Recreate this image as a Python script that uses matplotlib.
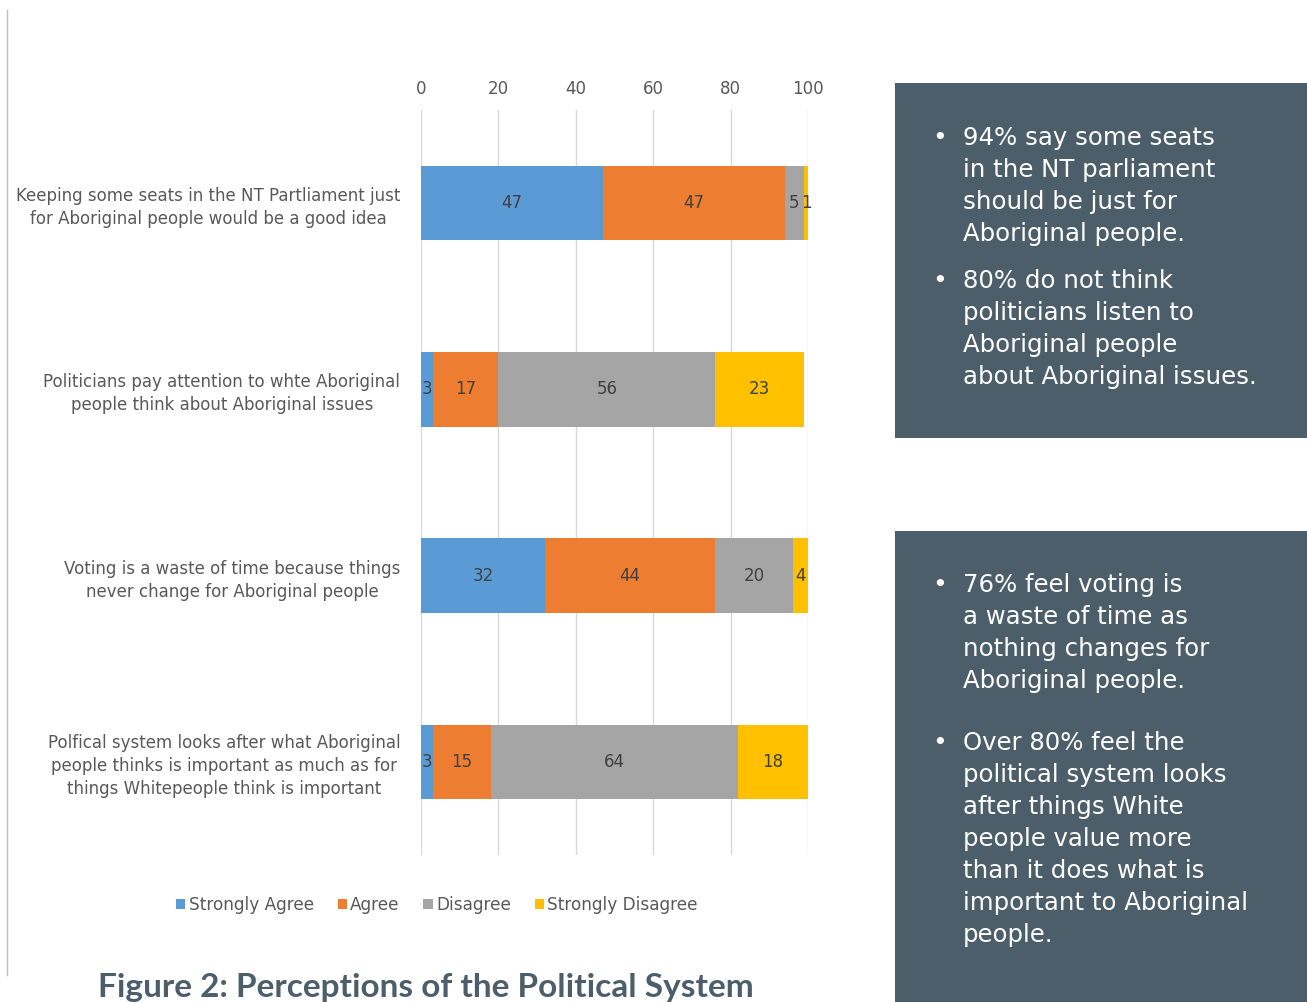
import matplotlib.pyplot as plt
from matplotlib.patches import Patch, Rectangle
from matplotlib.lines import Line2D
import numpy as np

W, H = 1307, 1002

questions = [
    "Keeping some seats in the NT Partliament just\nfor Aboriginal people would be a good idea",
    "Politicians pay attention to whte Aboriginal\npeople think about Aboriginal issues",
    "Voting is a waste of time because things\nnever change for Aboriginal people",
    "Polfical system looks after what Aboriginal\npeople thinks is important as much as for\nthings Whitepeople think is important",
]
series = ["Strongly Agree", "Agree", "Disagree", "Strongly Disagree"]
strongly_agree = [47, 3, 32, 3]
agree = [47, 17, 44, 15]
disagree = [5, 56, 20, 64]
strongly_disagree = [1, 23, 4, 18]
ticks = [0, 20, 40, 60, 80, 100]

box1_lines = [
    ["94% say some seats", "in the NT parliament", "should be just for", "Aboriginal people."],
    ["80% do not think", "politicians listen to", "Aboriginal people", "about Aboriginal issues."],
]
box2_lines = [
    ["76% feel voting is", "a waste of time as", "nothing changes for", "Aboriginal people."],
    ["Over 80% feel the", "political system looks", "after things White",
     "people value more", "than it does what is", "important to Aboriginal", "people."],
]

colors = ["#5B9BD5", "#ED7D31", "#A5A5A5", "#FFC000"]
slate = "#4B5E69"
txt = "#595959"


def px(x, y):
    return x / W, 1 - y / H


fig = plt.figure(figsize=(W / 100, H / 100), dpi=100)
plt.rcParams['font.family'] = ['DejaVu Sans']

l, t = px(421, 110)
r, b = px(808, 855)
ax = fig.add_axes([l, b, r - l, t - b])

vals = np.array([strongly_agree, agree, disagree, strongly_disagree], dtype=float)
y = np.arange(len(questions))
left = np.zeros(len(questions))
for i, name in enumerate(series):
    ax.barh(y, vals[i], left=left, height=0.4, color=colors[i], zorder=3)
    for j in range(len(questions)):
        ax.text(left[j] + vals[i][j] / 2, y[j], f"{vals[i][j]:.0f}", ha='center',
                va='center', fontsize=12, color="#404040", zorder=4)
    left += vals[i]

ax.set_xlim(0, 100)
ax.set_ylim(3.5, -0.5)
ax.set_xticks(ticks)
ax.xaxis.tick_top()
ax.tick_params(axis='x', length=0, labelsize=12, labelcolor=txt, pad=9)
ax.set_yticks(y)
ax.set_yticklabels(questions, fontsize=12, color=txt, ha='right',
                   multialignment='center', linespacing=1.35)
ax.tick_params(axis='y', length=0, pad=15)
ax.grid(axis='x', color="#D9D9D9", linewidth=1, zorder=0)
for s in ax.spines.values():
    s.set_visible(False)

handles = [Patch(facecolor=c, edgecolor='none') for c in colors]
fig.legend(handles, series, loc='center', bbox_to_anchor=px(437, 905), ncol=4,
           frameon=False, fontsize=12.2, labelcolor=txt, handlelength=0.55,
           handleheight=0.55, handletextpad=0.2, columnspacing=1.4)

# thin rule on the left
fig.add_artist(Line2D([7 / W, 7 / W], [1 - 10 / H, 1 - 975 / H], color="#BFBFBF",
                      linewidth=1, transform=fig.transFigure))

fig.text(*px(426, 988), "Figure 2: Perceptions of the Political System",
         family='Lato', fontweight='bold', fontsize=24, color=slate,
         ha='center', va='center')

# side boxes
for (x0, y0, x1, y1) in [(895, 83, 1307, 438), (895, 531, 1307, 1002)]:
    fig.add_artist(Rectangle(px(x0, y1), (x1 - x0) / W, (y1 - y0) / H,
                             facecolor=slate, edgecolor='none', transform=fig.transFigure))


def bullets(groups, starts):
    for lines, y0 in zip(groups, starts):
        fig.text(*px(940, y0), "•", color='white', fontsize=18, ha='center', va='center')
        for k, line in enumerate(lines):
            fig.text(*px(963, y0 + 32 * k), line, color='white', fontsize=17.6,
                     ha='left', va='center')


bullets(box1_lines, [138, 281])
bullets(box2_lines, [585, 743])

fig.savefig("out.png", dpi=100)
